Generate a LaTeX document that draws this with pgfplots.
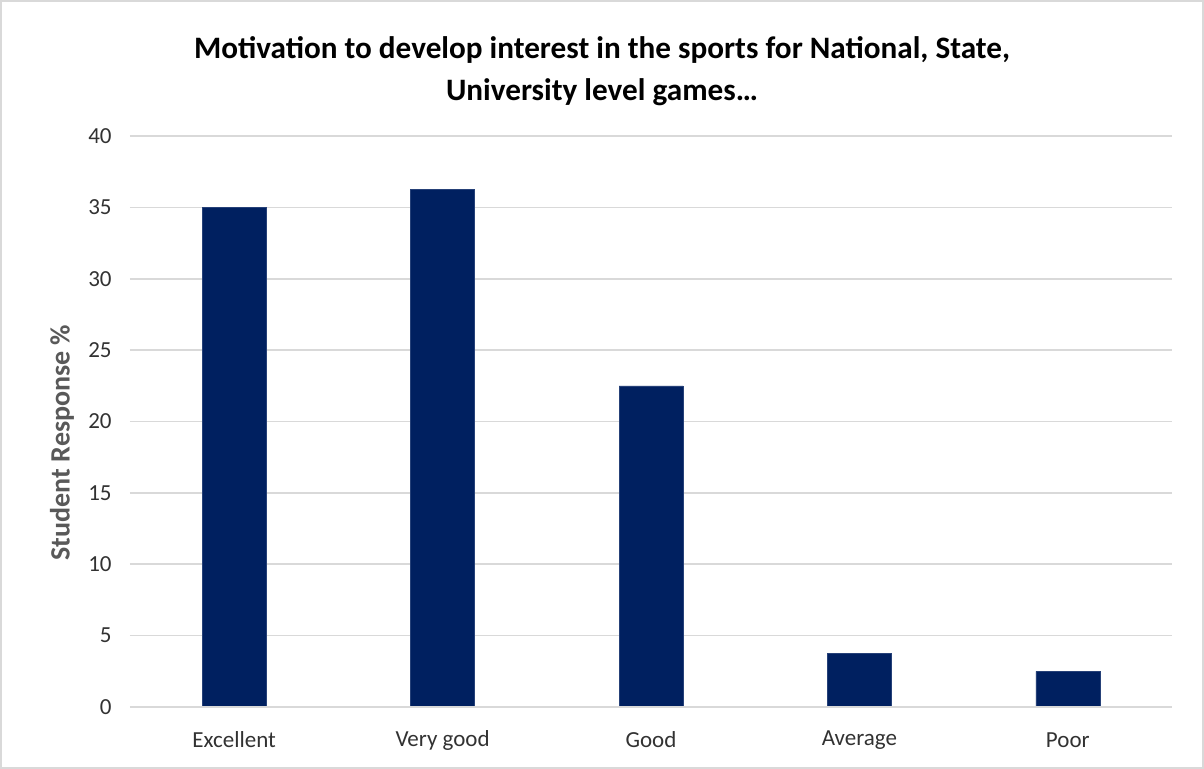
\documentclass[border=0pt]{standalone}
\usepackage{fontspec}
\setmainfont{Carlito}
\usepackage{pgfplots}
\pgfplotsset{compat=1.18}
\definecolor{barblue}{RGB}{0,32,96}
\definecolor{gridgray}{RGB}{217,217,217}
\definecolor{txtgray}{RGB}{89,89,89}
\definecolor{tickgray}{RGB}{50,50,50}
\begin{document}
\begin{tikzpicture}
\begin{axis}[
  scale only axis,
  width=521pt, height=285.5pt,
  xmin=-0.5, xmax=4.5,
  ymin=0, ymax=40,
  ytick={0,5,...,40},
  xtick={0,1,2,3,4},
  xticklabels={Excellent,Very good,Good,Average,Poor},
  axis line style={draw=none},
  major tick length=0pt,
  ymajorgrids,
  grid style={gridgray, line width=0.8pt},
  /pgf/number format/assume math mode=true,
  tick label style={font=\fontsize{11.5}{13}\selectfont, text=tickgray},
  yticklabel style={anchor=east, inner sep=0pt, xshift=-9pt},
  xticklabel style={anchor=center, inner sep=0pt, yshift=-16.5pt},
  clip=false,
]
\addplot[ybar, bar width=32pt, fill=barblue, draw=barblue!85!white, line width=0.3pt] coordinates {
  (0,35) (1,36.25) (2,22.5) (3,3.75) (4,2.5)
};
\draw[gridgray, line width=0.8pt] (rel axis cs:0,0) -- (rel axis cs:1,0);
\end{axis}
\node[font=\fontsize{15.6}{21}\selectfont\bfseries, align=center] at ([xshift=236pt,yshift=32.3pt]current axis.north west)
  {Motivation to develop interest in the sports for National, State,\\University level games\dots};
\node[rotate=90, font=\fontsize{14}{16}\selectfont\bfseries, text=txtgray] at ([xshift=-34pt,yshift=-10.5pt]current axis.west) {Student Response \%};
\draw[gridgray, line width=1pt] ([xshift=-64.5pt,yshift=-30.5pt]current axis.south west) rectangle ([xshift=15.5pt,yshift=67.5pt]current axis.north east);
\end{tikzpicture}
\end{document}
